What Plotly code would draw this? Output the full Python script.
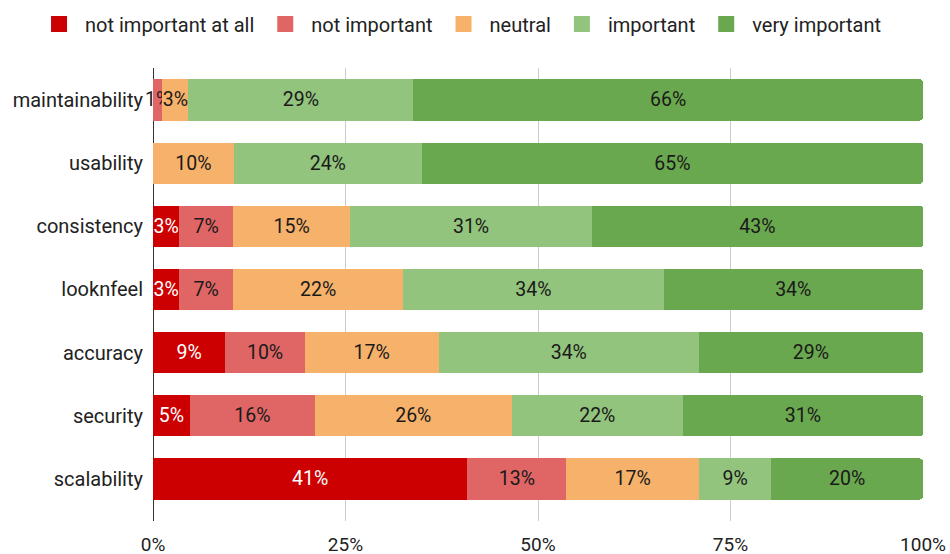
import plotly.graph_objects as go

categories = ["maintainability", "usability", "consistency", "looknfeel", "accuracy", "security", "scalability"]
series_names = ["not important at all", "not important", "neutral", "important", "very important"]
not_important_at_all = [0, 0, 3.4, 3.4, 9.4, 4.8, 40.8]
not_important = [1.2, 0, 7.0, 7.0, 10.3, 16.2, 12.9]
neutral = [3.4, 10.5, 15.2, 22.1, 17.4, 25.6, 17.2]
important = [29.2, 24.4, 31.4, 33.8, 33.8, 22.2, 9.4]
very_important = [66.2, 65.1, 43.0, 33.7, 29.1, 31.2, 19.7]
tick_vals = [0, 25, 50, 75, 100]
tick_text = ["0%", "25%", "50%", "75%", "100%"]

series = [not_important_at_all, not_important, neutral, important, very_important]
colors = ["#cc0000", "#e06666", "#f6b26b", "#93c47d", "#6aa84f"]
text_colors = ["#ffffff", "#1a1a1a", "#1a1a1a", "#1a1a1a", "#1a1a1a"]

FONT = "Roboto"
fig = go.Figure()
for name, vals, col, tcol in zip(series_names, series, colors, text_colors):
    fig.add_trace(go.Bar(
        y=categories, x=vals, name=name, orientation="h",
        marker=dict(color=col, line=dict(width=0)),
        text=[f"{round(v)}%" if v > 0 else "" for v in vals],
        textposition="inside", insidetextanchor="middle", textangle=0,
        textfont=dict(family=FONT, size=19.5, color=tcol),
        cliponaxis=False, hoverinfo="skip", showlegend=False,
    ))
# legend-only entries with larger square swatches
for name, col in zip(series_names, colors):
    fig.add_trace(go.Scatter(
        x=[None], y=[None], mode="markers", name=name,
        marker=dict(symbol="square", size=18, color=col),
        hoverinfo="skip", showlegend=True,
    ))

fig.update_layout(
    barmode="stack", barcornerradius=3, bargap=0.35,
    width=950, height=554,
    margin=dict(l=153, r=27, t=68, b=33, autoexpand=False),
    paper_bgcolor="white", plot_bgcolor="white",
    font=dict(family=FONT, size=20, color="#222222"),
    uniformtext=dict(minsize=19.5, mode="show"),
    legend=dict(orientation="h", xref="paper", yref="paper",
                x=-0.1558, xanchor="left", y=1.0971, yanchor="middle",
                font=dict(family=FONT, size=20, color="#222222"),
                traceorder="normal", itemwidth=42),
    xaxis=dict(range=[0, 100], tickvals=tick_vals, ticktext=tick_text,
               showgrid=True, gridcolor="#cccccc", gridwidth=1,
               zeroline=True, zerolinecolor="#333333", zerolinewidth=1,
               ticks="outside", ticklen=6, tickcolor="rgba(0,0,0,0)",
               tickfont=dict(family=FONT, size=19, color="#222222"),
               automargin=False, fixedrange=True),
    yaxis=dict(categoryorder="array", categoryarray=categories[::-1],
               range=[-0.665, 6.506], showgrid=False, zeroline=False,
               ticks="outside", ticklen=5, tickcolor="rgba(0,0,0,0)",
               tickfont=dict(family=FONT, size=20, color="#222222"),
               automargin=False, fixedrange=True),
    showlegend=True,
)
fig.write_html("out.html", config={"displayModeBar": False},
               post_script="document.body.style.margin='0';")
